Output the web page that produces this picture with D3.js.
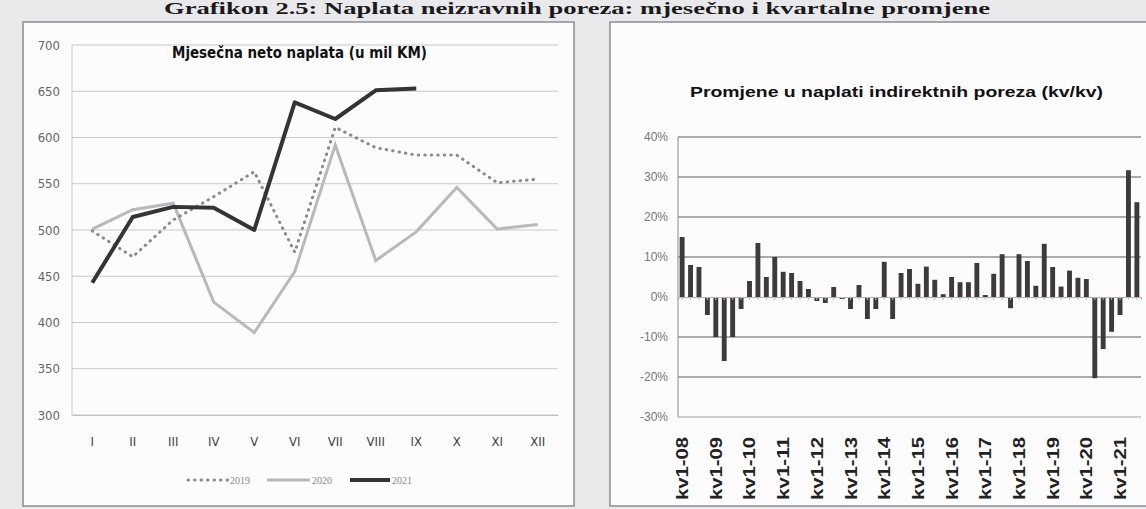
<!DOCTYPE html>
<html>
<head>
<meta charset="utf-8">
<script src="https://cdn.jsdelivr.net/npm/d3@7"></script>
<style>
  body { margin: 0; background: #e9e9ec; }
  svg { display: block; }
</style>
</head>
<body>
<svg id="chart"></svg>
<script>
// lijevi grafikon - mjesecna neto naplata (u mil KM)
const months = ["I", "II", "III", "IV", "V", "VI", "VII", "VIII", "IX", "X", "XI", "XII"];
const naplata2019 = [499, 471, 511, 536, 563, 476, 611, 589, 581, 581, 551, 555];
const naplata2020 = [501, 522, 529, 422, 389, 455, 592, 467, 498, 546, 501, 506];
const naplata2021 = [443, 514, 525, 524, 500, 638, 620, 651, 653];
const naplataTicks = [300, 350, 400, 450, 500, 550, 600, 650, 700];

// desni grafikon - promjene kv/kv (%)
const quarters = [
  "kv1-08", "kv2-08", "kv3-08", "kv4-08", "kv1-09", "kv2-09", "kv3-09", "kv4-09",
  "kv1-10", "kv2-10", "kv3-10", "kv4-10", "kv1-11", "kv2-11", "kv3-11", "kv4-11",
  "kv1-12", "kv2-12", "kv3-12", "kv4-12", "kv1-13", "kv2-13", "kv3-13", "kv4-13",
  "kv1-14", "kv2-14", "kv3-14", "kv4-14", "kv1-15", "kv2-15", "kv3-15", "kv4-15",
  "kv1-16", "kv2-16", "kv3-16", "kv4-16", "kv1-17", "kv2-17", "kv3-17", "kv4-17",
  "kv1-18", "kv2-18", "kv3-18", "kv4-18", "kv1-19", "kv2-19", "kv3-19", "kv4-19",
  "kv1-20", "kv2-20", "kv3-20", "kv4-20", "kv1-21", "kv2-21", "kv3-21"
];
const promjene = [
  15, 8, 7.5, -4.5, -10, -16, -10, -3,
  4, 13.5, 5, 10, 6.3, 6, 4, 2,
  -1, -1.5, 2.5, -0.5, -3, 3, -5.5, -3,
  8.8, -5.5, 6, 7, 3.3, 7.6, 4.3, 0.7,
  5, 3.7, 3.7, 8.5, 0.5, 5.8, 10.7, -2.8,
  10.7, 9, 2.8, 13.3, 7.5, 2.6, 6.6, 4.8,
  4.5, -20.3, -13, -8.7, -4.5, 31.7, 23.7
];
const promjeneTicks = [-30, -20, -10, 0, 10, 20, 30, 40];
const quarterLabels = ["kv1-08", "kv1-09", "kv1-10", "kv1-11", "kv1-12", "kv1-13", "kv1-14",
  "kv1-15", "kv1-16", "kv1-17", "kv1-18", "kv1-19", "kv1-20", "kv1-21"];

const w = 1146;
const h = 509;

const svg = d3.select("#chart")
    .attr("width", w)
    .attr("height", h);

// naslov iznad oba panela
svg.append("text")
    .attr("x", 164)
    .attr("y", 14)
    .attr("textLength", 826)
    .attr("lengthAdjust", "spacingAndGlyphs")
    .style("font-family", "'Liberation Serif', 'Times New Roman', serif")
    .style("font-weight", "bold")
    .style("font-size", "17px")
    .style("fill", "#1a1a1a")
    .text("Grafikon 2.5: Naplata neizravnih poreza: mjesečno i kvartalne promjene");

// paneli
svg.append("rect")
    .attr("x", 23).attr("y", 22)
    .attr("width", 551).attr("height", 484)
    .attr("fill", "#fcfcfd")
    .attr("stroke", "#8c8c90")
    .attr("stroke-width", 1.5);

svg.append("rect")
    .attr("x", 610).attr("y", 22)
    .attr("width", 545).attr("height", 484)
    .attr("fill", "#fcfcfd")
    .attr("stroke", "#8c8c90")
    .attr("stroke-width", 1.5);

// ---------- lijevi grafikon ----------
const left = svg.append("g");

const xL = d3.scaleBand()
    .domain(months)
    .range([72, 558]);

const yL = d3.scaleLinear()
    .domain([300, 700])
    .range([415, 45]);

left.append("g")
    .selectAll("line")
    .data(naplataTicks)
    .join("line")
    .attr("x1", 72)
    .attr("x2", 558)
    .attr("y1", d => yL(d))
    .attr("y2", d => yL(d))
    .attr("stroke", "#c9c9cc")
    .attr("stroke-width", 1);

left.append("line")
    .attr("x1", 72).attr("x2", 72)
    .attr("y1", yL(700)).attr("y2", yL(300))
    .attr("stroke", "#c9c9cc");

left.append("g")
    .attr("transform", `translate(0,${yL(300)})`)
    .call(d3.axisBottom(xL).tickSize(0).tickPadding(22))
    .call(g => g.select(".domain").attr("stroke", "#c0c0c4"))
    .call(g => g.selectAll("text")
        .style("font-family", "'DejaVu Sans Condensed', 'Liberation Sans Narrow', sans-serif")
        .style("font-size", "13px")
        .style("fill", "#3c3c3c"));

left.append("g")
    .attr("transform", "translate(63,0)")
    .call(d3.axisLeft(yL).tickValues(naplataTicks).tickSize(0).tickPadding(3))
    .call(g => g.select(".domain").remove())
    .call(g => g.selectAll("text")
        .style("font-family", "'DejaVu Sans Condensed', 'Liberation Sans Narrow', sans-serif")
        .style("font-size", "13px")
        .style("fill", "#666"));

const line = d3.line()
    .x((d, i) => xL(months[i]) + xL.bandwidth() / 2)
    .y(d => yL(d));

left.append("path")
    .datum(naplata2020)
    .attr("d", line)
    .attr("fill", "none")
    .attr("stroke", "#b9b9bc")
    .attr("stroke-width", 3);

left.append("path")
    .datum(naplata2019)
    .attr("d", line)
    .attr("fill", "none")
    .attr("stroke", "#8a8a8e")
    .attr("stroke-width", 3)
    .attr("stroke-linecap", "round")
    .attr("stroke-dasharray", "0.5 6");

left.append("path")
    .datum(naplata2021)
    .attr("d", line)
    .attr("fill", "none")
    .attr("stroke", "#343436")
    .attr("stroke-width", 4)
    .attr("stroke-linejoin", "round");

left.append("text")
    .attr("x", 172)
    .attr("y", 58)
    .attr("textLength", 255)
    .attr("lengthAdjust", "spacingAndGlyphs")
    .style("font-family", "'DejaVu Sans Condensed', 'Liberation Sans Narrow', sans-serif")
    .style("font-weight", "bold")
    .style("font-size", "15px")
    .style("fill", "#111")
    .text("Mjesečna neto naplata (u mil KM)");

// legenda
const legend = [
  { name: "2019", x1: 188, x2: 228, color: "#8a8a8e", width: 3, dash: "0.5 6" },
  { name: "2020", x1: 267, x2: 310, color: "#b9b9bc", width: 3, dash: null },
  { name: "2021", x1: 350, x2: 390, color: "#343436", width: 4, dash: null }
];

const legendItems = left.append("g")
    .selectAll("g")
    .data(legend)
    .join("g");

legendItems.append("line")
    .attr("x1", d => d.x1)
    .attr("x2", d => d.x2)
    .attr("y1", 480)
    .attr("y2", 480)
    .attr("stroke", d => d.color)
    .attr("stroke-width", d => d.width)
    .attr("stroke-linecap", d => d.dash ? "round" : "butt")
    .attr("stroke-dasharray", d => d.dash);

legendItems.append("text")
    .attr("x", d => d.x2 + 2)
    .attr("y", 484)
    .style("font-family", "'Liberation Serif', serif")
    .style("font-size", "10px")
    .style("fill", "#888")
    .text(d => d.name);

// ---------- desni grafikon ----------
const right = svg.append("g");

const xR = d3.scaleBand()
    .domain(quarters)
    .range([678, 1141])
    .paddingInner(0.42)
    .paddingOuter(0.2);

const yR = d3.scaleLinear()
    .domain([-30, 40])
    .range([417, 137]);

right.append("g")
    .selectAll("line")
    .data(promjeneTicks.filter(d => d !== 0 && d !== -30))
    .join("line")
    .attr("x1", 678)
    .attr("x2", 1141)
    .attr("y1", d => yR(d))
    .attr("y2", d => yR(d))
    .attr("stroke", "#5a5a5e")
    .attr("stroke-width", 1.2);

right.append("line")
    .attr("x1", 678).attr("x2", 1141)
    .attr("y1", yR(-30)).attr("y2", yR(-30))
    .attr("stroke", "#a0a0a4");

right.append("line")
    .attr("x1", 678).attr("x2", 678)
    .attr("y1", yR(40)).attr("y2", yR(-30))
    .attr("stroke", "#8c8c90");

right.append("g")
    .attr("transform", "translate(672,0)")
    .call(d3.axisLeft(yR).tickValues(promjeneTicks).tickSize(0).tickPadding(4)
        .tickFormat(d => d + "%"))
    .call(g => g.select(".domain").remove())
    .call(g => g.selectAll("text")
        .style("font-family", "'Liberation Sans', Arial, sans-serif")
        .style("font-size", "12px")
        .style("fill", "#777"));

right.append("g")
    .selectAll("rect")
    .data(promjene)
    .join("rect")
    .attr("x", (d, i) => xR(quarters[i]))
    .attr("y", d => yR(Math.max(0, d)))
    .attr("width", xR.bandwidth())
    .attr("height", d => Math.abs(yR(d) - yR(0)))
    .attr("fill", "#3b3b3d");

// nulta linija s oznakama kategorija
right.append("g")
    .attr("transform", `translate(0,${yR(0)})`)
    .call(d3.axisBottom(xR).tickSize(3).tickFormat(""))
    .call(g => g.select(".domain").attr("stroke", "#c9a6a6"))
    .call(g => g.selectAll(".tick line").attr("stroke", "#bbb"));

right.append("g")
    .selectAll("text")
    .data(quarterLabels)
    .join("text")
    .attr("transform", d => `translate(${xR(d) + xR.bandwidth() / 2 + 6},437) rotate(-90)`)
    .attr("text-anchor", "end")
    .attr("textLength", 63)
    .attr("lengthAdjust", "spacingAndGlyphs")
    .style("font-family", "'Liberation Sans', Arial, sans-serif")
    .style("font-weight", "bold")
    .style("font-size", "16px")
    .style("fill", "#222")
    .text(d => d);

right.append("text")
    .attr("x", 690)
    .attr("y", 97)
    .attr("textLength", 413)
    .attr("lengthAdjust", "spacingAndGlyphs")
    .style("font-family", "'Liberation Sans', Arial, sans-serif")
    .style("font-weight", "bold")
    .style("font-size", "15px")
    .style("fill", "#111")
    .text("Promjene u naplati indirektnih poreza (kv/kv)");
</script>
</body>
</html>
